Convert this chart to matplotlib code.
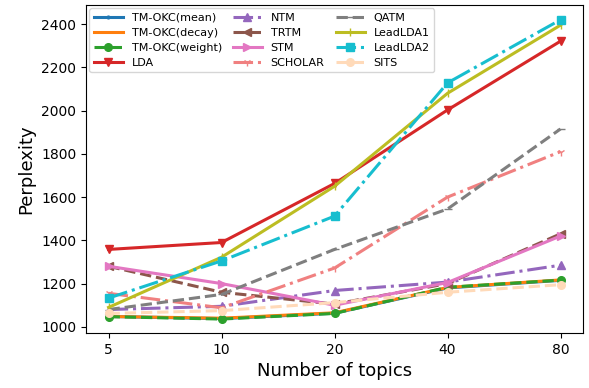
import matplotlib
matplotlib.use("Agg")
import numpy as np
import matplotlib.pyplot as plt

topics = ['5', '10', '20', '40', '80']

okc_mean = [1048, 1038, 1063, 1180, 1215]
okc_decay = [1048, 1040, 1065, 1182, 1217]
okc_weight = [1047, 1036, 1062, 1183, 1216]
lda = [1358, 1390, 1663, 2003, 2321]
ntm = [1080, 1095, 1168, 1207, 1285]
trtm = [1280, 1160, 1105, 1200, 1430]
stm = [1280, 1200, 1100, 1205, 1420]
scholar = [1155, 1088, 1272, 1600, 1810]
qatm = [1080, 1150, 1358, 1545, 1915]
leadlda1 = [1090, 1322, 1650, 2080, 2395]
leadlda2 = [1133, 1305, 1512, 2128, 2420]
sits = [1062, 1075, 1112, 1160, 1195]

x = np.arange(len(topics))

fig, ax = plt.subplots(figsize=(5.89, 3.88), dpi=100)
lw = 2.2
ms = 5.5
ax.plot(x, okc_mean, '-', marker='.', ms=4, color='#1f77b4', lw=lw, label='TM-OKC(mean)')
ax.plot(x, okc_decay, '-', color='#ff7f0e', lw=lw, label='TM-OKC(decay)')
ax.plot(x, okc_weight, '--', marker='o', ms=ms, color='#2ca02c', lw=lw, label='TM-OKC(weight)')
ax.plot(x, lda, '-', marker='v', ms=ms, color='#d62728', lw=lw, label='LDA')
ax.plot(x, ntm, '-.', marker='^', ms=ms, color='#9467bd', lw=lw, label='NTM')
ax.plot(x, trtm, '--', marker='<', ms=ms, color='#8c564b', lw=lw, label='TRTM')
ax.plot(x, stm, '-', marker='>', ms=ms, color='#e377c2', lw=lw, label='STM')
ax.plot(x, scholar, '-.', marker='1', ms=ms, color='#f08080', lw=lw, label='SCHOLAR')
ax.plot(x, qatm, '--', marker='_', ms=ms, color='#7f7f7f', lw=lw, label='QATM')
ax.plot(x, leadlda1, '-', marker='|', ms=ms, color='#bcbd22', lw=lw, label='LeadLDA1')
ax.plot(x, leadlda2, '-.', marker='s', ms=ms, color='#17becf', lw=lw, label='LeadLDA2')
ax.plot(x, sits, '--', marker='o', ms=ms, color='#ffdab9', lw=lw, label='SITS')

ax.set_xticks(x)
ax.set_xticklabels(topics)
ax.set_xlim(-0.2, 4.2)
ax.set_ylim(972, 2488)
ax.set_yticks([1000, 1200, 1400, 1600, 1800, 2000, 2200, 2400])
ax.tick_params(labelsize=10)
ax.set_xlabel('Number of topics', fontsize=13)
ax.set_ylabel('Perplexity', fontsize=13)
ax.legend(ncol=3, loc='upper left', fontsize=8, handlelength=2.6,
          columnspacing=1.0, labelspacing=0.45, borderaxespad=0.3)

plt.subplots_adjust(left=0.146, right=0.99, top=0.987, bottom=0.142)
plt.savefig('out.png')
